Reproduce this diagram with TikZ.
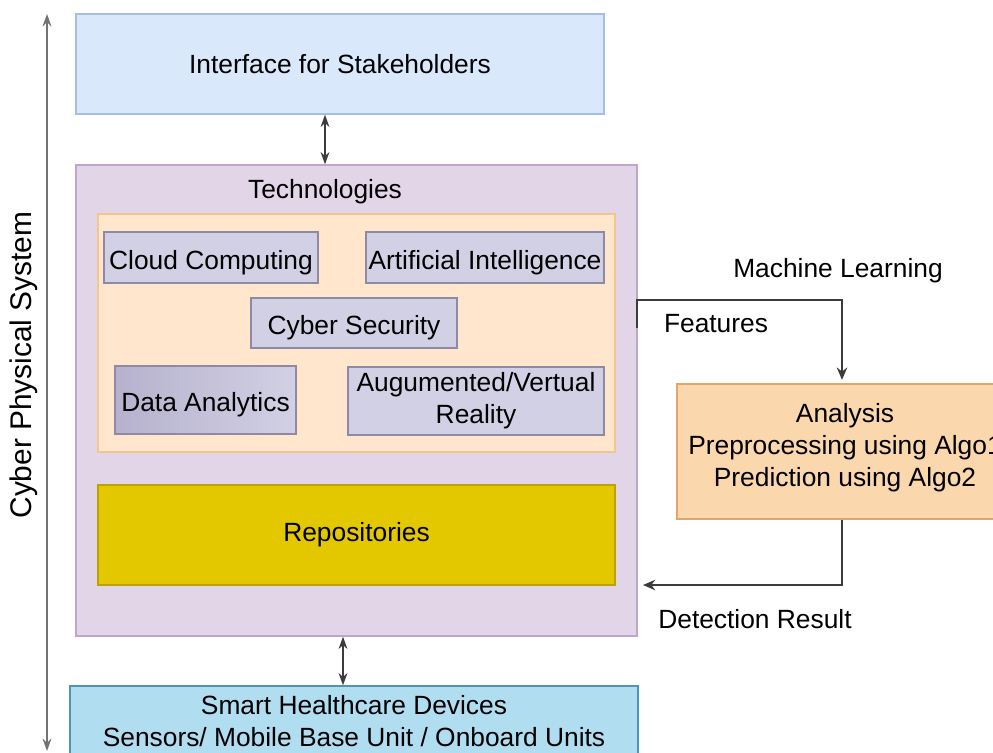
\documentclass[tikz,border=0pt]{standalone}
\usepackage{fontspec}
\setmainfont{Liberation Sans}
\usetikzlibrary{arrows.meta}

\definecolor{ifacefill}{HTML}{DAE8FC}
\definecolor{ifaceline}{HTML}{A4BEE6}
\definecolor{techfill}{HTML}{E1D5E7}
\definecolor{techline}{HTML}{BFA6CF}
\definecolor{innerfill}{HTML}{FFE6CC}
\definecolor{innerline}{HTML}{F0C88E}
\definecolor{itemfill}{HTML}{D2D0E4}
\definecolor{itemdark}{HTML}{B6B2CE}
\definecolor{itemline}{HTML}{8E8AA6}
\definecolor{repofill}{HTML}{E3C800}
\definecolor{repoline}{HTML}{BDA200}
\definecolor{devfill}{HTML}{B1DDF0}
\definecolor{devline}{HTML}{4F93BA}
\definecolor{mlfill}{HTML}{FAD7AC}
\definecolor{mlline}{HTML}{E2A66A}
\definecolor{linegray}{HTML}{3C3C3C}

\begin{document}
\begin{tikzpicture}[x=0.02cm, y=-0.02cm,
    font=\fontsize{15}{18.2}\selectfont,
    block/.style={draw, line width=0.8pt, inner sep=0pt, align=center},
    techbox/.style={block, fill=itemfill, draw=itemline, line width=1.2pt},
    lowtext/.style={text height=13.6pt, text depth=0pt},
    link/.style={draw=linegray, line width=0.9pt},
    biarrow/.style={link, {Stealth[length=7pt,width=5pt]}-{Stealth[length=7pt,width=5pt]}},
    flow/.style={link, -{Stealth[length=7pt,width=6pt]}}]
  \useasboundingbox (0,0) rectangle (993,753);
  \clip (0,0) rectangle (993,753);

  % outer layers
  \node[block, fill=ifacefill, draw=ifaceline, minimum width=10.56cm, minimum height=2cm] (iface) at (340,64) {Interface for Stakeholders};
  \node[block, fill=techfill, draw=techline, minimum width=11.22cm, minimum height=9.42cm] (tech) at (356.5,400.5) {};
  \node[inner sep=0pt] (techlbl) at (325,192) {Technologies};
  \node[block, fill=innerfill, draw=innerline, minimum width=10.34cm, minimum height=4.76cm] (inner) at (356.5,333) {};
  \node[block, fill=repofill, draw=repoline, minimum width=10.34cm, minimum height=2cm] (repo) at (356.5,535) {Repositories};
  \node[block, fill=devfill, draw=devline, minimum width=11.36cm, minimum height=1.48cm] (devices) at (354,723) {};
  \node[align=center, inner sep=0pt] (devtxt) at (354,721) {Smart Healthcare Devices\\Sensors/ Mobile Base Unit / Onboard Units};

  % technologies
  \node[techbox, lowtext, minimum width=4.28cm, minimum height=1.02cm] (cloud) at (211,257.5) {Cloud Computing};
  \node[techbox, lowtext, minimum width=4.76cm, minimum height=1.02cm] (ai) at (485,257.5) {Artificial Intelligence};
  \node[techbox, lowtext, minimum width=4.12cm, minimum height=1cm] (cyber) at (354,323) {Cyber Security};
  \node[techbox, lowtext, left color=itemdark, right color=itemfill, minimum width=3.62cm, minimum height=1.36cm] (data) at (205.5,400) {Data Analytics};
  \node[techbox, minimum width=5.12cm, minimum height=1.36cm] (arvr) at (476,401) {Augumented/Vertual\\Reality};

  % machine learning side
  \node[block, fill=mlfill, draw=mlline, minimum width=6.8cm, minimum height=2.7cm] (analysis) at (847,451.5) {};
  \node[align=center, inner sep=0pt] (analysistxt) at (845,447.5) {Analysis\\Preprocessing using Algo1\\Prediction using Algo2};
  \node[inner sep=0pt] (mllbl) at (838,271) {Machine Learning};
  \node[inner sep=0pt] (featlbl) at (716,324) {Features};
  \node[inner sep=0pt] (detlbl) at (755,619) {Detection Result};

  \coordinate (fstub) at (637,328);
  \coordinate (mlx) at (842,300);
  \coordinate (detin) at (637,585);
  \coordinate (dnx) at (343,660);

  \draw[biarrow] (iface.south -| techlbl) -- (tech.north -| techlbl);
  \draw[biarrow] (tech.south -| dnx) -- (devices.north -| dnx);
  \draw[flow] (fstub) |- (mlx) -- ([yshift=2pt]mlx |- analysis.north);
  \draw[flow, shorten >=0.12cm] (mlx |- analysis.south) |- (detin);

  % cyber physical system span
  \coordinate (cpstop) at (47,14);
  \coordinate (cpsbot) at (47,751);
  \draw[draw=gray!90!black, line width=1pt, {Stealth[length=7pt,width=5pt]}-{Stealth[length=7pt,width=5pt]}] (cpstop) -- (cpsbot);
  \node[rotate=90, inner sep=0pt, font=\fontsize{17}{20}\selectfont] (cpslbl) at (24,365) {Cyber Physical System};
\end{tikzpicture}
\end{document}
